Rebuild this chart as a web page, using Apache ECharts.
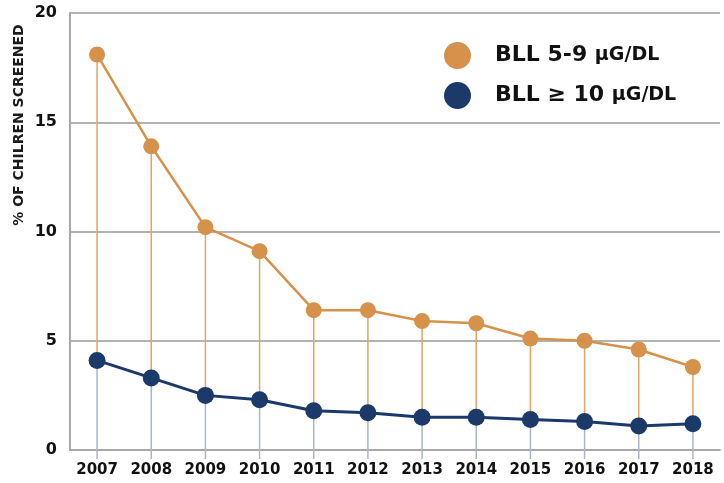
<!DOCTYPE html>
<html>
<head>
<meta charset="utf-8">
<script src="https://cdn.jsdelivr.net/npm/echarts@6/dist/echarts.min.js"></script>
<style>
  html, body { margin: 0; padding: 0; background: #fff; }
  #chart { width: 724px; height: 483px; }
</style>
</head>
<body>
<div id="chart"></div>
<script>
// data
const years = ['2007', '2008', '2009', '2010', '2011', '2012', '2013', '2014', '2015', '2016', '2017', '2018'];
const bll5to9 = [18.1, 13.9, 10.2, 9.1, 6.4, 6.4, 5.9, 5.8, 5.1, 5.0, 4.6, 3.8];
const bll10plus = [4.1, 3.3, 2.5, 2.3, 1.8, 1.7, 1.5, 1.5, 1.4, 1.3, 1.1, 1.2];
const yTicks = [0, 5, 10, 15, 20];
const seriesNames = ['BLL 5-9 μg/dL', 'BLL ≥ 10 μg/dL'];

const ORANGE = '#d6924a';
const NAVY = '#1b3969';
const FONT = 'DejaVu Sans';

const chart = echarts.init(document.getElementById('chart'));

// vertical drop lines: orange from top point to navy point, blue-grey from navy point past the axis
const dropData = years.map((y, i) => [i, bll5to9[i], bll10plus[i]]);

// unit shown in small caps: upper-case the latin letters only, keep the µ
const smallCaps = (s) => s.replace(/[a-z]/g, (c) => c.toUpperCase());

chart.setOption({
  animation: false,
  grid: { left: 70, right: 4, top: 13, bottom: 33 },
  legend: {
    orient: 'vertical',
    left: 439,
    top: 37,
    itemWidth: 27,
    itemHeight: 27,
    itemGap: 13,
    icon: 'circle',
    data: seriesNames,
    formatter: (name) => {
      const parts = name.split(' ');
      const unit = smallCaps(parts.pop());
      return '{a|' + parts.join(' ') + ' }{b|' + unit + '}';
    },
    textStyle: {
      padding: [0, 0, 0, 19],
      rich: {
        a: { fontFamily: FONT, fontWeight: 'bold', fontSize: 22, color: '#111' },
        b: { fontFamily: FONT, fontWeight: 'bold', fontSize: 19, color: '#111' }
      }
    }
  },
  graphic: [{
    type: 'text',
    x: 19,
    y: 125,
    rotation: Math.PI / 2,
    style: {
      text: '% OF CHILREN SCREENED',
      fontFamily: FONT,
      fontWeight: 'bold',
      fontSize: 14,
      fill: '#1a1a1a',
      align: 'center',
      verticalAlign: 'middle'
    }
  }],
  xAxis: {
    type: 'category',
    data: years,
    boundaryGap: true,
    axisLine: { lineStyle: { color: '#a8a8a8', width: 2 } },
    axisTick: { show: false },
    axisLabel: {
      interval: 0,
      hideOverlap: false,
      margin: 13,
      fontFamily: FONT,
      fontWeight: 'bold',
      fontSize: 15,
      color: '#111'
    }
  },
  yAxis: {
    type: 'value',
    min: yTicks[0],
    max: yTicks[yTicks.length - 1],
    interval: 5,
    axisLine: { show: true, lineStyle: { color: '#a8a8a8', width: 2 } },
    axisTick: { show: false },
    splitLine: { lineStyle: { color: '#9a9a9a', width: 1.5 } },
    axisLabel: {
      margin: 13,
      fontFamily: FONT,
      fontWeight: 'bold',
      fontSize: 16,
      color: '#111'
    }
  },
  series: [
    {
      type: 'custom',
      silent: true,
      clip: false,
      z: 1,
      data: dropData,
      renderItem: (params, api) => {
        const top = api.coord([api.value(0), api.value(1)]);
        const mid = api.coord([api.value(0), api.value(2)]);
        const base = api.coord([api.value(0), 0]);
        return {
          type: 'group',
          children: [
            {
              type: 'line',
              shape: { x1: top[0], y1: top[1], x2: mid[0], y2: mid[1] },
              style: { stroke: '#e2a464', lineWidth: 1.5 }
            },
            {
              type: 'line',
              shape: { x1: mid[0], y1: mid[1], x2: base[0], y2: base[1] + 9 },
              style: { stroke: '#a9b5cb', lineWidth: 1.5 }
            }
          ]
        };
      }
    },
    {
      name: seriesNames[0],
      type: 'line',
      data: bll5to9,
      z: 3,
      symbol: 'circle',
      symbolSize: 16,
      color: ORANGE,
      lineStyle: { color: ORANGE, width: 2.5 },
      itemStyle: { color: ORANGE }
    },
    {
      name: seriesNames[1],
      type: 'line',
      data: bll10plus,
      z: 3,
      symbol: 'circle',
      symbolSize: 17,
      color: NAVY,
      lineStyle: { color: NAVY, width: 3 },
      itemStyle: { color: NAVY }
    }
  ]
});
</script>
</body>
</html>
